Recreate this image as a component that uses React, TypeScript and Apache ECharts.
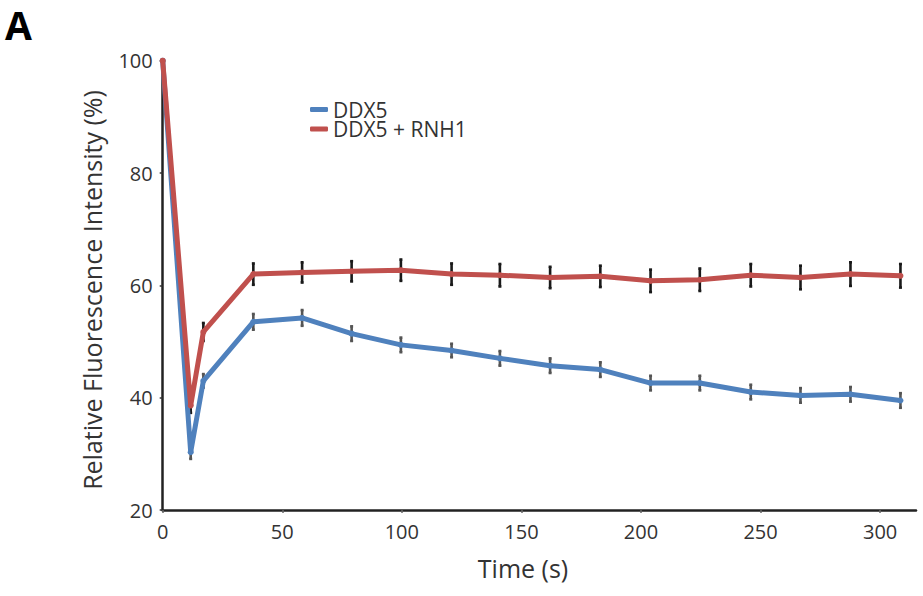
import React, { useEffect, useRef } from "react";
import * as echarts from "echarts";

const timeSec = [0, 11.7, 17, 37.9, 58.3, 79, 99.6, 120.8, 141, 162, 183, 204, 224.6, 245.9, 266.7, 287.6, 308.5];
const ddx5 = [100, 30.3, 43.0, 53.5, 54.2, 51.4, 49.4, 48.4, 47.0, 45.7, 45.0, 42.6, 42.6, 41.0, 40.4, 40.6, 39.5];
const ddx5Err = [0, 1.2, 1.2, 1.4, 1.4, 1.3, 1.3, 1.2, 1.3, 1.3, 1.3, 1.3, 1.3, 1.3, 1.3, 1.3, 1.3];
const ddx5Rnh1 = [100, 38.6, 51.7, 62.0, 62.3, 62.5, 62.7, 62.0, 61.8, 61.4, 61.6, 60.8, 61.0, 61.8, 61.4, 62.0, 61.7];
const ddx5Rnh1Err = [0, 1.3, 1.6, 1.9, 1.8, 1.8, 1.9, 1.9, 2.0, 1.9, 1.9, 2.0, 2.0, 2.0, 2.1, 2.1, 2.1];
const xTicks = [0, 50, 100, 150, 200, 250, 300];
const seriesNames = ["DDX5", "DDX5 + RNH1"];

const BLUE = "#4F81BD";
const RED = "#C0504D";
const FONT = "Open Sans";

function errorSeries(vals: number[], errs: number[], color: string) {
  const data = timeSec.map((t, i) => [t, vals[i] - errs[i], vals[i] + errs[i]]);
  return {
    type: "custom",
    silent: true,
    z: 1,
    data: data.filter((d) => d[2] - d[1] > 0),
    renderItem: (_p: any, api: any) => {
      const t = api.value(0);
      const lo = api.coord([t, api.value(1)]);
      const hi = api.coord([t, api.value(2)]);
      const st = { stroke: color, lineWidth: 2.6 };
      return {
        type: "group",
        children: [
          { type: "line", shape: { x1: lo[0], y1: lo[1], x2: hi[0], y2: hi[1] }, style: st },
          { type: "line", shape: { x1: lo[0] - 1.5, y1: lo[1], x2: lo[0] + 1.5, y2: lo[1] }, style: st },
          { type: "line", shape: { x1: hi[0] - 1.5, y1: hi[1], x2: hi[0] + 1.5, y2: hi[1] }, style: st },
        ],
      };
    },
  };
}

function legendFor(name: string, top: number) {
  return {
    orient: "vertical",
    left: 305,
    top,
    icon: "roundRect",
    itemWidth: 18,
    itemHeight: 5,
    textStyle: { fontFamily: FONT, fontSize: 21, color: "#333", lineHeight: 19 },
    data: [name],
  };
}

export default function App() {
  const ref = useRef<HTMLDivElement>(null);
  useEffect(() => {
    if (!ref.current) return;
    const chart = echarts.init(ref.current, null, { renderer: "svg" });
    chart.setOption({
      animation: false,
      backgroundColor: "#ffffff",
      textStyle: { fontFamily: FONT },
      grid: { left: 162.7, right: 7, top: 60.7, bottom: 86, containLabel: false },
      legend: [legendFor(seriesNames[0], 94), legendFor(seriesNames[1], 113.4)],
      xAxis: {
        type: "value",
        min: 0,
        max: 315,
        interval: 50,
        axisLine: { show: true, lineStyle: { color: "#222", width: 2.5 } },
        axisTick: { show: true, length: 3, lineStyle: { color: "#666", width: 1.5 }, customValues: xTicks },
        axisLabel: { fontFamily: FONT, fontSize: 20, color: "#333", margin: 11, customValues: xTicks },
        splitLine: { show: false },
      },
      yAxis: {
        type: "value",
        min: 20,
        max: 100,
        interval: 20,
        axisLine: { show: true, lineStyle: { color: "#222", width: 2.5 } },
        axisTick: { show: true, length: 3, lineStyle: { color: "#333", width: 1.5 } },
        axisLabel: { fontFamily: FONT, fontSize: 20, color: "#333", margin: 10 },
        splitLine: { show: false },
      },
      graphic: [
        {
          type: "text",
          left: 5,
          top: 5,
          style: { text: "A", font: `bold 39px ${FONT}`, fill: "#000" },
        },
        {
          type: "text",
          x: 92,
          y: 290,
          rotation: Math.PI / 2,
          style: {
            text: "Relative Fluorescence Intensity (%)",
            font: `25px ${FONT}`,
            fill: "#333",
            textAlign: "center",
            textVerticalAlign: "middle",
          },
        },
        {
          type: "text",
          x: 523,
          y: 568,
          style: {
            text: "Time (s)",
            font: `25px ${FONT}`,
            fill: "#333",
            textAlign: "center",
            textVerticalAlign: "middle",
          },
        },
      ],
      series: [
        errorSeries(ddx5, ddx5Err, "#555"),
        errorSeries(ddx5Rnh1, ddx5Rnh1Err, "#1a1a1a"),
        {
          name: seriesNames[0],
          type: "line",
          z: 3,
          data: timeSec.map((t, i) => [t, ddx5[i]]),
          symbol: "circle",
          symbolSize: 6,
          showSymbol: true,
          itemStyle: { color: BLUE },
          lineStyle: { color: BLUE, width: 5 },
        },
        {
          name: seriesNames[1],
          type: "line",
          z: 4,
          data: timeSec.map((t, i) => [t, ddx5Rnh1[i]]),
          symbol: "circle",
          symbolSize: 6,
          showSymbol: true,
          itemStyle: { color: RED },
          lineStyle: { color: RED, width: 5 },
        },
      ],
    });
    return () => chart.dispose();
  }, []);
  return <div ref={ref} style={{ width: 923, height: 596, position: "absolute", left: 0, top: 0 }} />;
}
